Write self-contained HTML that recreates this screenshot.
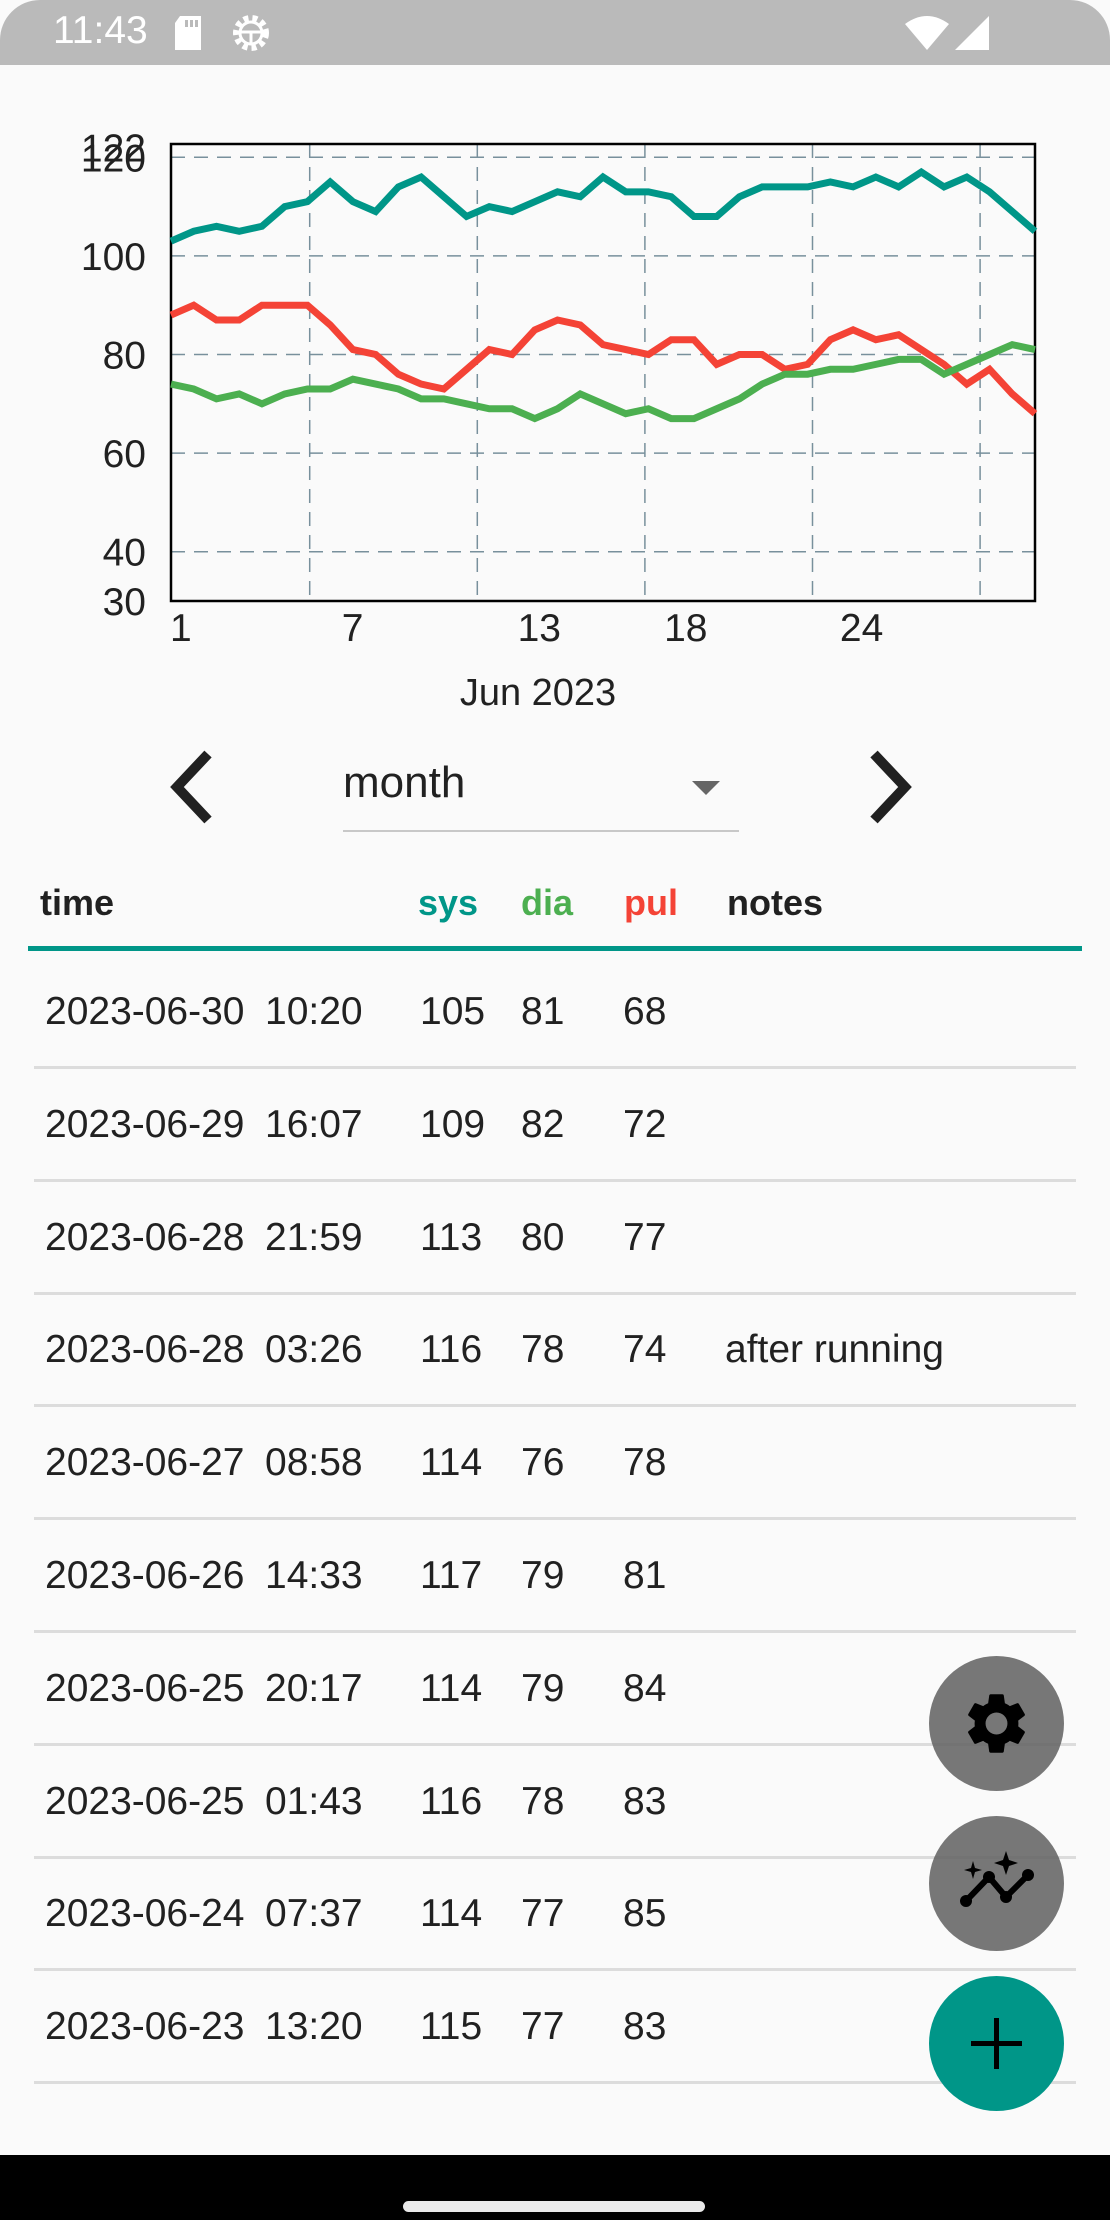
<!DOCTYPE html>
<html><head><meta charset="utf-8">
<style>
html,body{margin:0;padding:0;}
body{width:1110px;height:2220px;background:#fafafa;position:relative;overflow:hidden;font-family:"Liberation Sans",sans-serif;color:#212121;}
.abs{position:absolute;}
.row{position:absolute;left:0;width:1110px;height:113px;font-size:39px;}
.row span{position:absolute;white-space:nowrap;}
.div{position:absolute;left:34px;width:1042px;height:3px;background:#dcdcdc;}
.hdr{position:absolute;font-size:36px;font-weight:bold;white-space:nowrap;}
.fab{position:absolute;width:135px;height:135px;border-radius:50%;}
</style></head>
<body>
<div class="abs" style="left:0;top:0;width:1110px;height:65px;background:#bababa;border-top-left-radius:40px;border-top-right-radius:40px;">
  <span class="abs" style="left:53px;top:9px;font-size:39px;color:#fff;">11:43</span>
  <svg class="abs" style="left:172px;top:16px" width="32" height="34"><path d="M8 0H29V34H3V7Z" fill="#fff"/><rect x="13" y="4" width="3" height="7" fill="#bababa"/><rect x="18" y="4" width="3" height="7" fill="#bababa"/><rect x="23" y="4" width="3" height="7" fill="#bababa"/></svg>
  <svg class="abs" style="left:230px;top:12px" width="42" height="42"><circle cx="21" cy="21" r="15" fill="none" stroke="#fff" stroke-width="6" stroke-dasharray="5 4"/><circle cx="21" cy="21" r="11" fill="none" stroke="#fff" stroke-width="3"/><line x1="10" y1="20" x2="32" y2="20" stroke="#fff" stroke-width="3"/><line x1="21" y1="20" x2="21" y2="32" stroke="#fff" stroke-width="3"/></svg>
  <svg class="abs" style="left:905px;top:16px" width="44" height="34"><path d="M0 8Q22 -8 44 8L22 34Z" fill="#fff"/></svg>
  <svg class="abs" style="left:955px;top:16px" width="34" height="34"><path d="M34 0V34H0Z" fill="#fff"/></svg>
</div>

<svg class="abs" id="chart" style="left:0;top:65px" width="1110" height="660" viewBox="0 65 1110 660"></svg>

<svg class="abs" style="left:166px;top:750px" width="54" height="74"><polyline points="42,4 11,37 42,70" fill="none" stroke="#212121" stroke-width="10"/></svg>
<div class="abs" style="left:343px;top:758px;width:396px;height:72px;border-bottom:2px solid #c8c8c8;">
  <span class="abs" style="left:0;top:0px;font-size:44px;color:#212121;">month</span>
  <svg class="abs" style="left:349px;top:23px" width="28" height="14"><path d="M0 0H28L14 14Z" fill="#666"/></svg>
</div>
<svg class="abs" style="left:862px;top:750px" width="54" height="74"><polyline points="12,4 43,37 12,70" fill="none" stroke="#212121" stroke-width="10"/></svg>

<span class="hdr" style="left:40px;top:882px;">time</span>
<span class="hdr" style="left:418px;top:882px;color:#009688;">sys</span>
<span class="hdr" style="left:521px;top:882px;color:#4caf50;">dia</span>
<span class="hdr" style="left:624px;top:882px;color:#f44336;">pul</span>
<span class="hdr" style="left:727px;top:882px;">notes</span>
<div class="abs" style="left:28px;top:946px;width:1054px;height:5px;background:#009688;"></div>

<div id="rows"></div>

<div class="fab" style="left:929px;top:1656px;background:rgba(100,100,100,0.88);">
  <svg class="abs" style="left:31px;top:31px" width="73" height="73" viewBox="0 0 24 24"><path fill="#000" d="M19.14 12.94c.04-.3.06-.61.06-.94 0-.32-.02-.64-.07-.94l2.03-1.58a.49.49 0 0 0 .12-.61l-1.920-3.32a.49.49 0 0 0-.59-.22l-2.39.96c-.5-.38-1.030-.7-1.62-.94l-.36-2.54a.48.48 0 0 0-.48-.41h-3.84c-.24 0-.43.17-.47.41l-.36 2.54c-.59.24-1.13.57-1.62.94l-2.39-.96a.49.49 0 0 0-.59.22L2.74 8.87c-.12.21-.08.47.12.61l2.03 1.58c-.05.3-.09.63-.09.94s.02.64.07.94l-2.03 1.58a.49.49 0 0 0-.12.61l1.92 3.32c.12.22.37.29.59.22l2.39-.96c.5.38 1.03.7 1.62.94l.36 2.54c.05.24.24.41.48.41h3.84c.24 0 .44-.17.47-.41l.36-2.54c.59-.24 1.13-.56 1.62-.94l2.39.96c.22.08.47 0 .59-.22l1.92-3.32c.12-.22.07-.47-.12-.61l-2.01-1.58zM12 15.6A3.6 3.6 0 1 1 12 8.4a3.6 3.6 0 0 1 0 7.2z"/></svg>
</div>
<div class="fab" style="left:929px;top:1816px;background:rgba(100,100,100,0.88);">
  <svg class="abs" style="left:25px;top:35px" width="85" height="65"><polyline points="12,50 35,26 52,46 74,24" fill="none" stroke="#000" stroke-width="6" stroke-linejoin="round"/><circle cx="12" cy="50" r="6"/><circle cx="35" cy="26" r="6"/><circle cx="52" cy="46" r="6"/><circle cx="74" cy="24" r="6"/><path d="M19 10L21 17L28 19L21 21L19 28L17 21L10 19L17 17Z"/><path d="M52 0L55 9L64 12L55 15L52 24L49 15L40 12L49 9Z"/></svg>
</div>
<div class="fab" style="left:929px;top:1976px;background:#009688;">
  <div class="abs" style="left:65px;top:42px;width:5px;height:51px;background:#000;"></div>
  <div class="abs" style="left:42px;top:65px;width:51px;height:5px;background:#000;"></div>
</div>

<div class="abs" style="left:0;top:2155px;width:1110px;height:65px;background:#000;">
  <div class="abs" style="left:403px;top:46px;width:302px;height:11px;border-radius:6px;background:#eaeaea;"></div>
</div>

<script>
// ---- chart data ----
const sysValues=[103,105,106,105,106,110,111,115,111,109,114,116,112,108,110,109,111,113,112,116,113,113,112,108,108,112,114,114,114,115,114,116,114,117,114,116,113,109,105];
const diaValues=[74,73,71,72,70,72,73,73,75,74,73,71,71,70,69,69,67,69,72,70,68,69,67,67,69,71,74,76,76,77,77,78,79,79,76,78,80,82,81];
const pulValues=[88,90,87,87,90,90,90,86,81,80,76,74,73,77,81,80,85,87,86,82,81,80,83,83,78,80,80,77,78,83,85,83,84,81,78,74,77,72,68];
const yTickValues=[30,40,60,80,100,120,122];
const xTickDays=[1,7,13,18,24];
const xTickLabels=["1","7","13","18","24"];
const xGridDays=[5.8,11.6,17.4,23.2,29];
const yMin=30,yMax=122.7,dayMin=1,dayMax=30.9;

const L=171,R=1035,T=144,B=601;
const NS='http://www.w3.org/2000/svg';
const svg=document.getElementById('chart');
const yS=v=>B-(v-yMin)/(yMax-yMin)*(B-T);
const xI=i=>L+i/(sysValues.length-1)*(R-L);
const xD=d=>L+(d-dayMin)/(dayMax-dayMin)*(R-L);
const xLab=d=>166+(d-dayMin)*29.3;
function mk(tag,attrs){const e=document.createElementNS(NS,tag);for(const k in attrs)e.setAttribute(k,attrs[k]);svg.appendChild(e);return e;}

yTickValues.forEach(v=>{
  if(v>30&&v<=120){
    const g=mk('line',{x1:L,x2:R,y1:yS(v),y2:yS(v),stroke:'#78909c','stroke-width':1.5,'stroke-dasharray':'14 9'});
    
    
  }
  const t=mk('text',{x:146,y:yS(v)+14,'text-anchor':'end','font-size':39,fill:'#212121','font-family':'Liberation Sans, sans-serif'});
  t.textContent=String(v);
  
  
});
xGridDays.forEach(d=>{
  const g=mk('line',{x1:xD(d),x2:xD(d),y1:T,y2:B,stroke:'#78909c','stroke-width':1.5,'stroke-dasharray':'14 9'});
  
  
});
xTickDays.forEach((d,i)=>{
  const t=mk('text',{x:Math.max(xLab(d),170),y:641,'font-size':39,fill:'#212121','font-family':'Liberation Sans, sans-serif'});
  t.textContent=xTickLabels[i];
  
  
});
const frame=mk('rect',{x:L,y:T,width:R-L,height:B-T,fill:'none',stroke:'#000','stroke-width':2.5});


[[sysValues,'#009688','sys-line'],[pulValues,'#f44336','pul-line'],[diaValues,'#4caf50','dia-line']].forEach(([arr,c,n])=>{
  const p=mk('polyline',{points:arr.map((v,i)=>xI(i)+','+yS(v)).join(' '),fill:'none',stroke:c,'stroke-width':7,'stroke-linejoin':'miter'});
  
  
});
const xt=mk('text',{x:538,y:705,'text-anchor':'middle','font-size':38,fill:'#212121','font-family':'Liberation Sans, sans-serif'});
xt.textContent='Jun 2023';



// ---- table ----
const rowDates=["2023-06-30","2023-06-29","2023-06-28","2023-06-28","2023-06-27","2023-06-26","2023-06-25","2023-06-25","2023-06-24","2023-06-23"];
const rowTimes=["10:20","16:07","21:59","03:26","08:58","14:33","20:17","01:43","07:37","13:20"];
const rowSys=[105,109,113,116,114,117,114,116,114,115];
const rowDia=[81,82,80,78,76,79,79,78,77,77];
const rowPul=[68,72,77,74,78,81,84,83,85,83];
const rowNotes=["","","","after running","","","","","",""];
const rows=document.getElementById('rows');
rowDates.forEach((d,i)=>{
  const top=956+i*112.8;
  const r=document.createElement('div');
  r.className='row';
  r.style.top=top+'px';
  
  
  const cells=[[45,d+''],[265,rowTimes[i]],[420,rowSys[i]],[521,rowDia[i]],[623,rowPul[i]],[725,rowNotes[i]]];
  cells.forEach(([x,txt])=>{const s=document.createElement('span');s.style.left=x+'px';s.style.top='34px';s.textContent=txt;r.appendChild(s);});
  rows.appendChild(r);
  const dv=document.createElement('div');
  dv.className='div';
  dv.style.top=(1066+i*112.8)+'px';
  
  
  rows.appendChild(dv);
});
</script>
</body></html>
